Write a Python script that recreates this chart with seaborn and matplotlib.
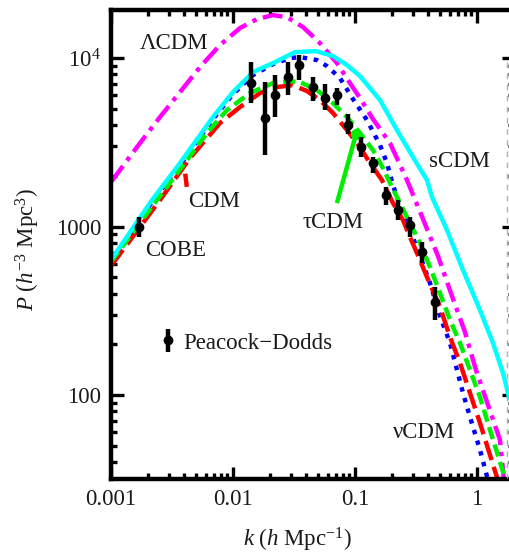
import numpy as np
import pandas as pd
import matplotlib
matplotlib.use("Agg")
import matplotlib.pyplot as plt
from matplotlib.lines import Line2D
import seaborn as sns
from matplotlib.ticker import FixedLocator, FixedFormatter, LogLocator, NullFormatter

# ---------------- data ----------------
k_scdm = [0.001, 0.002168, 0.003681, 0.006855, 0.01000, 0.01459, 0.02129, 0.03223, 0.04786,
          0.06604, 0.08597, 0.1099, 0.1603, 0.2209, 0.2986, 0.3890, 0.4276, 0.5675,
          0.7674, 1.058, 1.352, 1.634, 1.829, 2.01]
P_scdm = [632.6, 1436, 2382, 4466, 6285, 8258, 9340, 10850, 11000,
          10280, 9090, 7821, 5633, 3738, 2585, 1888, 1497, 953.3,
          551.9, 319.5, 203.5, 135.1, 97.3, 81.5]

k_lcdm = [0.001, 0.001729, 0.002521, 0.003677, 0.005364, 0.007823, 0.01141, 0.01573, 0.02128,
          0.02771, 0.03748, 0.05164, 0.07119, 0.08763, 0.1099, 0.1404, 0.1936, 0.2668,
          0.3609, 0.4790, 0.6238, 0.7969, 0.9813, 1.231, 1.543, 1.696]
P_lcdm = [1837, 3130, 4466, 6284, 8843, 11950, 15070, 17040, 17990,
          17510, 15280, 12270, 9340, 7402, 5788, 4345, 3130, 1888,
          1108, 668.2, 386.7, 236.5, 140.7, 87.24, 54.08, 27.31]

k_cdm = [0.001, 0.002521, 0.004441, 0.007823, 0.01141, 0.01665, 0.02295, 0.03102, 0.04043,
         0.05164, 0.06603, 0.08600, 0.1099, 0.1327, 0.1664, 0.2048, 0.2474, 0.2823,
         0.3222, 0.3892, 0.4973, 0.6008, 0.7258, 0.8762, 1.058, 1.278, 1.543]
P_cdm = [583.0, 1436, 2550, 4114, 5120, 6199, 6728, 6915, 6370,
         5633, 4716, 3738, 2964, 2382, 1888, 1379, 1093, 866.3,
         696.2, 501.5, 332.9, 220.9, 154.8, 102.8, 68.22, 44.05, 28.44]

k_tcdm = [0.001, 0.002382, 0.004197, 0.006120, 0.008928, 0.01378, 0.02128, 0.02933, 0.03541,
          0.04882, 0.06603, 0.08600, 0.1099, 0.1404, 0.1696, 0.1936, 0.2338, 0.2823,
          0.3410, 0.4119, 0.4973, 0.6008, 0.7258, 0.8762, 1.058, 1.278, 1.543, 1.795]
P_tcdm = [615.7, 1436, 2481, 3588, 4914, 6199, 7105, 7302, 7203,
          6458, 5407, 4466, 3588, 2844, 2225, 1812, 1379, 1049,
          798.1, 575.1, 403.0, 278.7, 203.5, 140.7, 97.3, 62.0, 40.04, 28.06]

k_ncdm = [0.001, 0.002168, 0.003681, 0.006855, 0.01000, 0.01459, 0.02128, 0.02933, 0.03541,
          0.04882, 0.05894, 0.07534, 0.09630, 0.1254, 0.1603, 0.1829, 0.2048, 0.2338,
          0.2823, 0.3410, 0.4119, 0.4973, 0.6008, 0.6859, 0.7679, 0.8762, 1.058, 1.231]
P_ncdm = [615.7, 1398, 2317, 4345, 6115, 7928, 9212, 10000, 10140,
          9730, 8965, 7609, 5711, 4285, 3045, 2382, 1764, 1323,
          953.3, 668.2, 461.9, 294.3, 203.5, 140.7, 102.8, 74.04, 47.17, 31.30]

# Peacock-Dodds points + COBE point
k_pts = [0.0017, 0.01406, 0.01828, 0.02208, 0.02823, 0.03475, 0.04527, 0.05675, 0.07112,
         0.08764, 0.1119, 0.1405, 0.1795, 0.2251, 0.2825, 0.3540, 0.4529]
P_pts = [993, 7110, 4410, 6030, 7710, 9090, 6730, 5800, 6030,
         4000, 2965, 2380, 1540, 1253, 1021, 706, 356]
P_lo = [867, 5410, 2655, 4470, 6030, 7400, 5560, 4910, 5260,
        3540, 2580, 2080, 1343, 1093, 867, 607, 278]
P_hi = [1138, 9470, 7200, 7930, 9470, 10410, 7710, 7010, 6640,
        4650, 3400, 2580, 1715, 1436, 1138, 810, 438]

# pointer lines (annotations)
tau_ptr_k = [0.0711, 0.102]
tau_ptr_P = [1377, 3540]
cdm_ptr_k = [0.00418, 0.00406]
cdm_ptr_P = [1720, 2060]

x_ticks = [0.001, 0.01, 0.1, 1]
x_ticklabels = ["0.001", "0.01", "0.1", "1"]
y_ticks = [100, 1000, 10000]
y_ticklabels = ["100", "1000", r"$10^4$"]

models = ["ΛCDM", "νCDM", "CDM", "τCDM", "sCDM"]
curves = {"ΛCDM": (k_lcdm, P_lcdm), "νCDM": (k_ncdm, P_ncdm), "CDM": (k_cdm, P_cdm),
          "τCDM": (k_tcdm, P_tcdm), "sCDM": (k_scdm, P_scdm)}

frames = []
for m in models:
    kk, pp = curves[m]
    frames.append(pd.DataFrame({"model": m, "k": kk, "P": pp}))
df = pd.concat(frames, ignore_index=True)

# ---------------- style ----------------
sns.set_theme(style="ticks")
plt.rcParams["font.family"] = ["Liberation Serif", "DejaVu Serif"]
plt.rcParams["mathtext.fontset"] = "custom"
plt.rcParams["mathtext.rm"] = "Liberation Serif"
plt.rcParams["mathtext.it"] = "Liberation Serif:italic"
plt.rcParams["axes.unicode_minus"] = True

FS = 16.5
LW = 3.2
styles = {
    "ΛCDM": dict(color="#FF00FF", linestyle=(0, (4.5, 1.5, 1.0, 1.5))),
    "νCDM": dict(color="#0000FF", linestyle=(0, (1.0, 1.5))),
    "CDM": dict(color="#FF0000", linestyle=(0, (4.5, 1.6))),
    "τCDM": dict(color="#00EE00", linestyle=(0, (2.8, 1.3))),
    "sCDM": dict(color="#00FFFF", linestyle="-"),
}

fig = plt.figure(figsize=(5.09, 5.59), dpi=100)
ax = fig.add_axes([111 / 509, 80 / 559, 402.7 / 509, 469 / 559])
ax.set_xscale("log")
ax.set_yscale("log")

for m in models:
    sub = df[df["model"] == m]
    sns.lineplot(data=sub, x="k", y="P", ax=ax, estimator=None, sort=False,
                 lw=LW, solid_capstyle="butt", dash_capstyle="butt",
                 solid_joinstyle="round", **styles[m])

# pointer lines
ax.plot(tau_ptr_k, tau_ptr_P, color="#00EE00", lw=LW, solid_capstyle="butt")
ax.plot(tau_ptr_k[-1:], tau_ptr_P[-1:], "o", color="#00EE00", ms=7)
ax.plot(cdm_ptr_k, cdm_ptr_P, color="#FF0000", lw=LW, solid_capstyle="butt")

# data points
k_arr = np.array(k_pts)
P_arr = np.array(P_pts)
yerr = [P_arr - np.array(P_lo), np.array(P_hi) - P_arr]
eb = ax.errorbar(k_arr, P_arr, yerr=yerr, fmt="o", color="black", ms=6,
                 elinewidth=3.2, capsize=0, zorder=5, label="Peacock−Dodds")

ax.set_xlim(0.001, 2.0)
ax.set_ylim(31.7, 1.93e4)

# ticks
ax.xaxis.set_major_locator(FixedLocator(x_ticks))
ax.xaxis.set_major_formatter(FixedFormatter(x_ticklabels))
ax.yaxis.set_major_locator(FixedLocator(y_ticks))
ax.yaxis.set_major_formatter(FixedFormatter(y_ticklabels))
ax.xaxis.set_minor_locator(LogLocator(base=10, subs=np.arange(2, 10)))
ax.yaxis.set_minor_locator(LogLocator(base=10, subs=np.arange(2, 10)))
ax.xaxis.set_minor_formatter(NullFormatter())
ax.yaxis.set_minor_formatter(NullFormatter())
ax.tick_params(which="both", direction="in", top=True, right=True, colors="black",
               labelcolor="#1a1a1a", labelsize=FS)
ax.tick_params(which="major", length=9, width=2.4, pad=7)
ax.tick_params(which="minor", length=4.5, width=2.4)
for s in ax.spines.values():
    s.set_linewidth(3.2)
    s.set_color("black")

ax.set_xlabel(r"$k$ ($h$ Mpc$^{-1}$)", fontsize=FS, color="#1a1a1a")
ax.set_ylabel(r"$P$ ($h^{-3}$ Mpc$^3$)", fontsize=FS, color="#1a1a1a")
ax.xaxis.set_label_coords(0.464, -0.100)
ax.yaxis.set_label_coords(-0.172, 0.49)

# model labels
txt = dict(fontsize=FS, color="#1a1a1a", transform=ax.transAxes, va="center", ha="left")
ax.text(0.072, 0.928, "ΛCDM", **txt)
ax.text(0.192, 0.591, "CDM", **txt)
ax.text(0.085, 0.488, "COBE", **txt)
ax.text(0.476, 0.546, "τCDM", **txt)
ax.text(0.790, 0.676, "sCDM", **txt)
ax.text(0.700, 0.100, "νCDM", **txt)

leg = ax.legend(handles=[eb], labels=["Peacock−Dodds"], loc="center left",
                bbox_to_anchor=(0.125, 0.29), frameon=False, fontsize=FS,
                handlelength=0.6, handletextpad=0.35, borderpad=0, borderaxespad=0)
for t in leg.get_texts():
    t.set_color("#1a1a1a")

# faint dashed frame edge seen at the right border of the reference
fig.add_artist(Line2D([507 / 509, 507 / 509], [1 - 62 / 559, 1 - 478 / 559],
                      transform=fig.transFigure, color="#b0b0b0", lw=1.0,
                      linestyle=(0, (4, 4))))

fig.savefig("out.png", dpi=100)
